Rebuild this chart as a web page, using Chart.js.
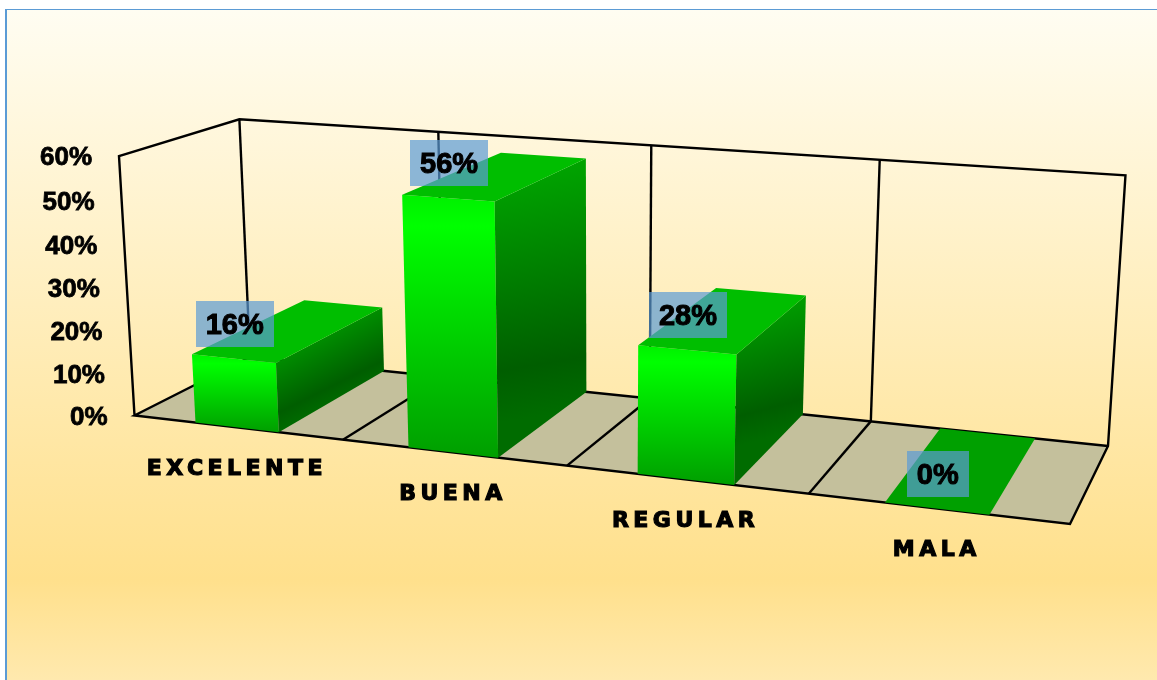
<!DOCTYPE html>
<html>
<head>
<meta charset="utf-8">
<title>Chart</title>
<script src="https://cdn.jsdelivr.net/npm/chart.js@4"></script>
<style>
    html, body { margin: 0; padding: 0; background: #fff; overflow: hidden; }
    #panel {
        position: absolute; left: 5px; top: 9px; width: 1150px; height: 670px;
        border-left: 2px solid #5B9BD5; border-top: 1px solid #5B9BD5;
        background: linear-gradient(to bottom, #FFFDF2 0%, #FFE08C 85%, #FFE9AE 100%);
    }
    #chart { position: absolute; left: 0; top: 0; }
</style>
</head>
<body>
<div id="panel"></div>
<canvas id="chart" width="1157" height="680"></canvas>
<script>
const categories = ["EXCELENTE", "BUENA", "REGULAR", "MALA"]
const percentages = [16, 56, 28, 0]
const yTickLabels = ["0%", "10%", "20%", "30%", "40%", "50%", "60%"]

// box corners on screen: floor (front-left, front-right, back-right, back-left) and top of the front-left edge
const floorQuad = [[134.5, 415.5], [1070, 524], [1108, 446], [250, 357]]
const topLeft = [119, 156]
const heightTilt = -0.032

// pinhole projection: floor homography plus a height column
function makeProjection(q, top, tilt) {
    const [[x0, y0], [x1, y1], [x2, y2], [x3, y3]] = q
    const dx1 = x1 - x2, dx2 = x3 - x2, sx = x0 - x1 + x2 - x3
    const dy1 = y1 - y2, dy2 = y3 - y2, sy = y0 - y1 + y2 - y3
    const den = dx1 * dy2 - dx2 * dy1
    const g = (sx * dy2 - dx2 * sy) / den
    const h = (dx1 * sy - sx * dy1) / den
    const a = x1 - x0 + g * x1, b = x3 - x0 + h * x3
    const d = y1 - y0 + g * y1, e = y3 - y0 + h * y3
    const cx = top[0] * (1 + tilt) - x0, cy = top[1] * (1 + tilt) - y0
    // u: along the categories, v: height, t: depth, all 0..1
    return (u, v, t) => {
        const w = g * u + h * t + tilt * v + 1
        return [(a * u + b * t + cx * v + x0) / w, (d * u + e * t + cy * v + y0) / w]
    }
}
const project = makeProjection(floorQuad, topLeft, heightTilt)

function poly(ctx, pts, fill) {
    ctx.beginPath()
    pts.forEach((p, i) => i ? ctx.lineTo(p[0], p[1]) : ctx.moveTo(p[0], p[1]))
    ctx.closePath()
    ctx.fillStyle = fill
    ctx.fill()
}

function line(ctx, a, b) {
    ctx.beginPath()
    ctx.moveTo(a[0], a[1])
    ctx.lineTo(b[0], b[1])
    ctx.stroke()
}

const box3d = {
    id: "box3d",
    beforeDatasetsDraw(chart) {
        const ctx = chart.ctx
        const area = chart.chartArea
        const xs = chart.scales.x, ys = chart.scales.y
        const uOf = px => (px - area.left) / area.width
        const vOf = py => (area.bottom - py) / area.height

        ctx.save()
        // floor and walls
        poly(ctx, [project(0, 0, 0), project(1, 0, 0), project(1, 0, 1), project(0, 0, 1)], "rgb(196,192,156)")
        ctx.strokeStyle = "#000"
        ctx.lineWidth = 2.4
        ctx.lineJoin = "miter"
        const n = categories.length
        for (let i = 1; i < n; i++) {
            line(ctx, project(i / n, 0, 0), project(i / n, 0, 1))
            line(ctx, project(i / n, 0, 1), project(i / n, 1, 1))
        }
        line(ctx, project(0, 0, 1), project(0, 1, 1))
        ctx.beginPath()
        ;[[0, 0, 1], [0, 0, 0], [1, 0, 0], [1, 0, 1], [1, 1, 1], [0, 1, 1], [0, 1, 0], [0, 0, 0]].forEach((c, i) => {
            const p = project(c[0], c[1], c[2])
            i ? ctx.lineTo(p[0], p[1]) : ctx.moveTo(p[0], p[1])
        })
        ctx.stroke()
        line(ctx, project(0, 0, 1), project(1, 0, 1))

        // bars, taken from the bar elements the chart laid out
        const bars = chart.getDatasetMeta(0).data
        bars.forEach((bar, i) => {
            const u0 = uOf(bar.x - bar.width / 2), u1 = uOf(bar.x + bar.width / 2)
            const v = vOf(bar.y)
            const fb0 = project(u0, 0, 0), fb1 = project(u1, 0, 0), bb1 = project(u1, 0, 1)
            const ft0 = project(u0, v, 0), ft1 = project(u1, v, 0), bt0 = project(u0, v, 1), bt1 = project(u1, v, 1)
            if (percentages[i] > 0) {
                const front = ctx.createLinearGradient(0, ft0[1], 0, fb1[1])
                front.addColorStop(0, "#00F000")
                front.addColorStop(0.12, "#00FF00")
                front.addColorStop(1, "#009E00")
                poly(ctx, [ft0, ft1, fb1, fb0], front)
                const side = ctx.createLinearGradient(bt1[0] - 60, bt1[1], bb1[0] - 20, bb1[1] + 20)
                side.addColorStop(0, "#00A800")
                side.addColorStop(0.8, "#005E00")
                side.addColorStop(1, "#006C00")
                poly(ctx, [ft1, bt1, bb1, fb1], side)
                poly(ctx, [ft0, ft1, bt1, bt0], "#00BE00")
            } else {
                poly(ctx, [ft0, ft1, bt1, bt0], "#00A000")
            }
        })

        // value labels
        ctx.textAlign = "center"
        ctx.textBaseline = "middle"
        bars.forEach((bar, i) => {
            const v = vOf(bar.y)
            const a = project(uOf(bar.x), v, 0)
            const text = percentages[i] + "%"
            ctx.font = "bold 29px 'Liberation Sans'"
            const w = ctx.measureText(text).width + 20
            const cx = a[0] + 1, cy = a[1] - 35
            ctx.fillStyle = "rgba(91,155,213,0.7)"
            ctx.fillRect(Math.round(cx - w / 2), Math.round(cy - 23), Math.round(w), 46)
            ctx.fillStyle = "#000"
            ctx.strokeStyle = "#000"
            ctx.lineWidth = 1
            ctx.fillText(text, cx, cy + 2)
            ctx.strokeText(text, cx, cy + 2)
        })

        // value axis labels follow the front-left edge
        ctx.textAlign = "right"
        ctx.font = "bold 26px 'Liberation Sans'"
        ctx.fillStyle = "#000"
        ctx.lineWidth = 0.8
        yTickLabels.forEach(label => {
            const p = project(0, vOf(ys.getPixelForValue(parseInt(label))), 0)
            ctx.fillText(label, p[0] - 27, p[1] + 2)
            ctx.strokeText(label, p[0] - 27, p[1] + 2)
        })

        // category labels sit under the front edge
        ctx.textAlign = "center"
        ctx.font = "bold 22px 'DejaVu Sans'"
        ctx.letterSpacing = "4.5px"
        ctx.lineWidth = 1.2
        categories.forEach((label, i) => {
            const p = project(uOf(xs.getPixelForValue(i)), 0, 0)
            ctx.fillText(label, p[0], p[1] + 42)
            ctx.strokeText(label, p[0], p[1] + 42)
        })
        ctx.restore()
    }
}

new Chart(document.getElementById("chart").getContext("2d"), {
    type: "bar",
    plugins: [box3d],
    data: {
        labels: categories,
        datasets: [{
            data: percentages,
            backgroundColor: "rgba(0,0,0,0)",
            barPercentage: 0.4,
            categoryPercentage: 1
        }]
    },
    options: {
        responsive: false,
        animation: false,
        layout: { padding: { left: 120, right: 30, top: 120, bottom: 150 } },
        scales: {
            x: { display: false },
            y: { display: false, min: 0, max: 60, ticks: { stepSize: 10 } }
        },
        plugins: {
            legend: { display: false },
            tooltip: { enabled: false }
        }
    }
})
</script>
</body>
</html>
